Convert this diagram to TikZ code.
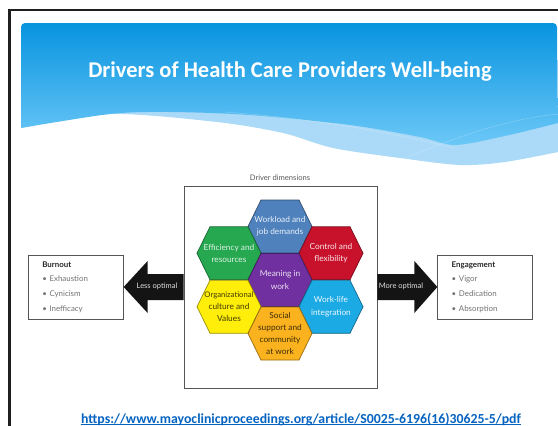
\documentclass[tikz,border=0pt]{standalone}
\usepackage{fontspec}
\setmainfont{Lato}
\newfontfamily\headfont{Carlito}
\usetikzlibrary{calc}

\definecolor{headtop}{RGB}{8,148,224}
\definecolor{headbot}{RGB}{108,200,247}
\definecolor{paleband}{RGB}{170,218,247}
\definecolor{workblue}{RGB}{79,129,189}
\definecolor{ctrlred}{RGB}{200,18,44}
\definecolor{effgreen}{RGB}{38,168,80}
\definecolor{meanpurple}{RGB}{112,48,160}
\definecolor{orgyellow}{RGB}{255,238,10}
\definecolor{socorange}{RGB}{250,178,30}
\definecolor{lifecyan}{RGB}{28,170,228}
\definecolor{linkblue}{RGB}{5,99,193}
\definecolor{boxline}{RGB}{85,85,85}
\definecolor{headtext}{RGB}{40,40,40}
\definecolor{itemtext}{RGB}{115,115,115}

\tikzset{
  hexlabel/.style={align=center, inner sep=0pt, font=\fontsize{8.3}{12.2}\selectfont},
  outcome/.style={draw=boxline, line width=0.7pt, text width=67pt, inner xsep=14pt,
    minimum height=64pt, align=left, text=itemtext, font=\fontsize{7.9}{14.6}\selectfont},
  blockarrow/.style={fill=black!92},
  arrowlabel/.style={text=white!88!black, inner sep=0pt, font=\fontsize{7.5}{9}\selectfont},
}

% one honeycomb cell: name, centre x, centre y, fill, text colour, label
\newcommand\hexcell[6]{%
  \begin{scope}[shift={(#2,#3)}]
    \filldraw[fill=#4, draw=#4!60!black, line width=0.7pt]
      (-32,0) -- (-19,-26.5) -- (19,-26.5) -- (32,0) -- (19,26.5) -- (-19,26.5) -- cycle;
  \end{scope}
  \node[hexlabel, text=#5] (#1) at (#2,#3) {#6};
}

\begin{document}
\begin{tikzpicture}[x=1pt,y=-1pt]
\useasboundingbox (0,0) rectangle (558,426);
\clip (0,0) rectangle (558,426);
\fill[white] (0,0) rectangle (558,426);

% slide frame
\draw[line width=2.2pt, black!88] (9.5,10.3) rectangle (620,480);

% header band: pale wave underneath, shaded blue on top
\fill[paleband] (21,60) -- (21,128)
  -- plot[smooth] coordinates {(21,128) (110,114) (217,122) (283,133) (333,148) (400,158) (460,165) (505,162) (558,152)}
  -- (558,60) -- cycle;
\shade[top color=headtop, bottom color=headbot]
  (21,128) [rounded corners=4pt] -- (21,23) -- (557,23) -- (557,90) [sharp corners] -- (558,123)
  -- plot[smooth] coordinates {(558,123) (505,136) (455,145) (420,137) (350,125) (250,115) (170,112) (110,114) (21,128)}
  -- cycle;
\draw[white, opacity=0.25, line width=0.5pt] (225,112) .. controls (330,120) and (400,135) .. (455,148);
\draw[white, opacity=0.25, line width=0.5pt] (400,160) .. controls (450,140) and (500,120) .. (558,114);

% title
\node[font=\headfont\bfseries\fontsize{22.5}{27}\selectfont, text=white, anchor=base, inner sep=0pt]
  (title) at (290,77) {Drivers of Health Care Providers Well-being};

% driver dimensions panel
\node[draw=boxline, line width=0.7pt, minimum width=193pt, minimum height=202pt, inner sep=0pt]
  (drivers) at (280.5,287) {};
\node[text=black!65, inner sep=0pt, font=\fontsize{7.6}{9}\selectfont] (dimlabel) at (280,178) {Driver dimensions};

% honeycomb of drivers
\hexcell{workload}{280}{226.5}{workblue}{white!88!workblue}{Workload and\\job demands}
\hexcell{efficiency}{229}{253.25}{effgreen}{white!85!effgreen}{Efficiency and\\resources}
\hexcell{control}{331}{253.25}{ctrlred}{white!90!ctrlred}{Control and\\flexibility}
\hexcell{meaning}{280}{280}{meanpurple}{white!85!meanpurple}{Meaning in\\work}
\hexcell{culture}{229}{306.75}{orgyellow}{black!75!orgyellow}{\fontsize{7.7}{12.2}\selectfont Organizational\\culture and\\Values}
\hexcell{worklife}{331}{306.75}{lifecyan}{white!92!lifecyan}{Work-life\\integration}
\hexcell{social}{280}{333.5}{socorange}{black!75!socorange}{Social\\support and\\community\\at work}

% outcome boxes
\node[outcome] (burnout) at (75.8,287)
  {{\color{headtext}\bfseries Burnout}\\• Exhaustion\\• Cynicism\\• Inefficacy};
\node[outcome] (engagement) at (485.2,287)
  {{\color{headtext}\bfseries Engagement}\\• Vigor\\• Dedication\\• Absorption};

% block arrows from the panel to the outcomes
\fill[blockarrow] (burnout.east) -- ($(burnout.east)+(24,-26)$) -- ($(burnout.east)+(24,-13)$)
  -- ($(drivers.west)+(0,-13)$) -- ($(drivers.west)+(0,13)$)
  -- ($(burnout.east)+(24,13)$) -- ($(burnout.east)+(24,26)$) -- cycle;
\fill[blockarrow] (engagement.west) -- ($(engagement.west)+(-23,-26)$) -- ($(engagement.west)+(-23,-13)$)
  -- ($(drivers.east)+(0,-13)$) -- ($(drivers.east)+(0,13)$)
  -- ($(engagement.west)+(-23,13)$) -- ($(engagement.west)+(-23,26)$) -- cycle;
\node[arrowlabel] (less) at (157,286) {Less optimal};
\node[arrowlabel] (more) at (401,286) {More optimal};

% source link
\node[font=\headfont\bfseries\fontsize{13.8}{16}\selectfont, text=linkblue, anchor=base, inner sep=0pt]
  (url) at (301,423) {https://www.mayoclinicproceedings.org/article/S0025-6196(16)30625-5/pdf};
\draw[linkblue, line width=0.9pt] ($(url.base west)+(0,1.6)$) -- ($(url.base east)+(0,1.6)$);
\end{tikzpicture}
\end{document}
